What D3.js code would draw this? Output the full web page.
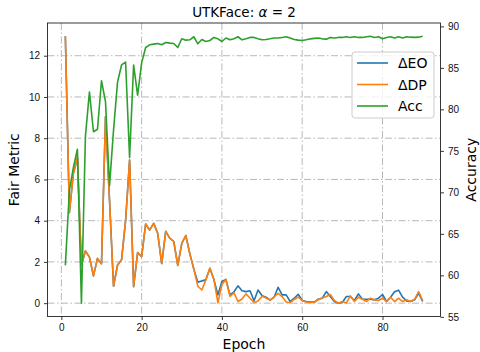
<!DOCTYPE html>
<html>
<head>
<script src="https://cdn.jsdelivr.net/npm/d3@7"></script>
<style>
  body { margin: 0; background: #fff; }
  svg { font-family: "DejaVu Sans", sans-serif; }
  .grid line { stroke: #b0b0b0; stroke-width: 0.9; stroke-dasharray: 7,2.5,1.5,2.5; }
  .axis path, .axis line { stroke: #222; stroke-width: 0.9; }
  .axis text { font-size: 10px; fill: #111; }
</style>
</head>
<body>
<script>
// epochs 1..90
var epochs = d3.range(1, 91);

var dp = [12.94, 4.39, 6.3, 7.05, 1.85, 2.53, 2.23, 1.32, 2.17, 1.91,
          9.04, 5.0, 0.82, 1.85, 2.1, 4.0, 6.94, 0.8, 2.45, 2.26,
          3.84, 3.55, 3.87, 3.39, 1.92, 3.48, 3.15, 2.99, 1.83, 2.9,
          3.28, 2.4, 1.65, 0.82, 0.64, 1.13, 1.69, 1.15, 0.02, 0.9,
          1.15, 0.33, 0.5, 0.08, 0.2, 0.45, 0.24, 0.03, 0.1, 0.33,
          0.25, 0.15, 0.3, 0.48, 0.32, 0.06, 0.02, 0.18, 0.3, 0.12,
          0.06, 0.03, 0.04, 0.17, 0.26, 0.32, 0.42, 0.13, 0.0, 0.08,
          0.01, 0.35, 0.08, 0.29, 0.19, 0.08, 0.24, 0.16, 0.13, 0.24,
          0.08, 0.29, 0.08, 0.24, 0.08, 0.16, 0.08, 0.19, 0.56, 0.13];

var eo = [12.94, 4.39, 6.3, 7.05, 1.85, 2.53, 2.23, 1.32, 2.17, 1.91,
          9.04, 5.0, 0.82, 1.85, 2.1, 4.0, 6.94, 0.8, 2.45, 2.26,
          3.84, 3.55, 3.87, 3.39, 1.92, 3.48, 3.15, 2.99, 1.83, 2.9,
          3.28, 2.4, 1.65, 1.02, 1.08, 1.13, 1.69, 1.15, 0.4, 1.05,
          1.15, 0.4, 0.55, 0.84, 0.6, 0.56, 0.6, 0.12, 0.64, 0.36,
          0.29, 0.15, 0.29, 0.77, 0.4, 0.4, 0.08, 0.24, 0.43, 0.13,
          0.08, 0.05, 0.05, 0.19, 0.24, 0.56, 0.32, 0.08, 0.0, 0.03,
          0.32, 0.32, 0.13, 0.45, 0.19, 0.19, 0.19, 0.16, 0.24, 0.42,
          0.08, 0.29, 0.55, 0.63, 0.29, 0.11, 0.08, 0.16, 0.48, 0.08];

var acc = [61.2, 70.2, 73.0, 75.2, 56.65, 76.8, 82.1, 77.3, 77.6, 83.45,
           80.9, 70.8, 77.5, 83.3, 85.35, 85.7, 74.2, 85.35, 81.7, 85.6,
           87.46, 87.78, 87.86, 87.94, 87.78, 88.06, 87.98, 87.94, 87.46, 88.51,
           88.34, 88.38, 88.75, 87.9, 88.42, 88.18, 88.3, 88.67, 88.5, 88.18,
           88.6, 88.38, 88.5, 88.75, 88.38, 88.5, 88.67, 88.67, 88.5, 88.38,
           88.42, 88.5, 88.6, 88.6, 88.67, 88.75, 88.6, 88.42, 88.34, 88.3,
           88.38, 88.5, 88.55, 88.6, 88.5, 88.46, 88.67, 88.6, 88.67, 88.67,
           88.75, 88.67, 88.75, 88.67, 88.67, 88.75, 88.8, 88.67, 88.75, 88.5,
           88.67, 88.75, 88.6, 88.75, 88.6, 88.75, 88.7, 88.67, 88.7, 88.8];

var xTicks = [0, 20, 40, 60, 80];
var leftTicks = [0, 2, 4, 6, 8, 10, 12];
var rightTicks = [55, 60, 65, 70, 75, 80, 85, 90];

var series = [
  {name: "\u0394EO", values: eo, color: "#1f77b4", axis: "left"},
  {name: "\u0394DP", values: dp, color: "#ff7f0e", axis: "left"},
  {name: "Acc", values: acc, color: "#2ca02c", axis: "right"}
];

var width = 480, height = 352;
var plotL = 47.5, plotR = 440.5, plotT = 23, plotB = 316.5;

// matplotlib style 5% padding
function pad(ext) {
  var r = ext[1] - ext[0];
  return [ext[0] - 0.05 * r, ext[1] + 0.05 * r];
}

var x = d3.scaleLinear().domain(pad(d3.extent(epochs))).range([plotL, plotR]);
var yL = d3.scaleLinear().domain(pad(d3.extent(dp.concat(eo)))).range([plotB, plotT]);
var yR = d3.scaleLinear().domain(pad(d3.extent(acc))).range([plotB, plotT]);

var svg = d3.select("body").append("svg")
  .attr("width", width).attr("height", height);

svg.append("rect").attr("width", width).attr("height", height).attr("fill", "#fff");

// grid
var grid = svg.append("g").attr("class", "grid");
grid.selectAll(".gx").data(xTicks).enter().append("line")
  .attr("x1", d => x(d)).attr("x2", d => x(d))
  .attr("y1", plotT).attr("y2", plotB);
grid.selectAll(".gy").data(leftTicks).enter().append("line")
  .attr("x1", plotL).attr("x2", plotR)
  .attr("y1", d => yL(d)).attr("y2", d => yL(d));

svg.append("clipPath").attr("id", "clip")
  .append("rect").attr("x", plotL).attr("y", plotT)
  .attr("width", plotR - plotL).attr("height", plotB - plotT);

var plot = svg.append("g").attr("clip-path", "url(#clip)");
series.forEach(function(s) {
  var yy = s.axis === "left" ? yL : yR;
  var line = d3.line().x((d, i) => x(epochs[i])).y(d => yy(d));
  plot.append("path").datum(s.values)
    .attr("d", line)
    .attr("fill", "none")
    .attr("stroke", s.color)
    .attr("stroke-width", 1.6)
    .attr("stroke-linejoin", "round");
});

// axes
svg.append("g").attr("class", "axis")
  .attr("transform", "translate(0," + plotB + ")")
  .call(d3.axisBottom(x).tickValues(xTicks).tickSize(3.5).tickPadding(4))
  .select(".domain").remove();
svg.append("g").attr("class", "axis")
  .attr("transform", "translate(" + plotL + ",0)")
  .call(d3.axisLeft(yL).tickValues(leftTicks).tickSize(3.5).tickPadding(4))
  .select(".domain").remove();
svg.append("g").attr("class", "axis")
  .attr("transform", "translate(" + plotR + ",0)")
  .call(d3.axisRight(yR).tickValues(rightTicks).tickSize(3.5).tickPadding(4))
  .select(".domain").remove();

svg.append("rect")
  .attr("x", plotL).attr("y", plotT)
  .attr("width", plotR - plotL).attr("height", plotB - plotT)
  .attr("fill", "none").attr("stroke", "#222").attr("stroke-width", 0.9);

// labels
svg.append("text").attr("x", (plotL + plotR) / 2).attr("y", 17)
  .attr("text-anchor", "middle").attr("font-size", 13.5)
  .html("UTKFace: <tspan font-style='italic'>\u03b1</tspan> = 2");
svg.append("text").attr("x", (plotL + plotR) / 2).attr("y", 349)
  .attr("text-anchor", "middle").attr("font-size", 14).text("Epoch");
svg.append("text")
  .attr("transform", "translate(19," + (plotT + plotB) / 2 + ") rotate(-90)")
  .attr("text-anchor", "middle").attr("font-size", 14).text("Fair Metric");
svg.append("text")
  .attr("transform", "translate(476," + (plotT + plotB) / 2 + ") rotate(-90)")
  .attr("text-anchor", "middle").attr("font-size", 14).text("Accuracy");

// legend
var lg = svg.append("g").attr("transform", "translate(352,52)");
lg.append("rect").attr("width", 82).attr("height", 66).attr("rx", 3)
  .attr("fill", "#fff").attr("fill-opacity", 0.8)
  .attr("stroke", "#cccccc").attr("stroke-width", 1);
series.forEach(function(s, i) {
  var yy = 11 + i * 21.5;
  lg.append("line").attr("x1", 5).attr("x2", 36).attr("y1", yy).attr("y2", yy)
    .attr("stroke", s.color).attr("stroke-width", 1.6);
  lg.append("text").attr("x", 46).attr("y", yy).attr("dy", "0.36em")
    .attr("font-size", 14).text(s.name);
});
</script>
</body>
</html>
